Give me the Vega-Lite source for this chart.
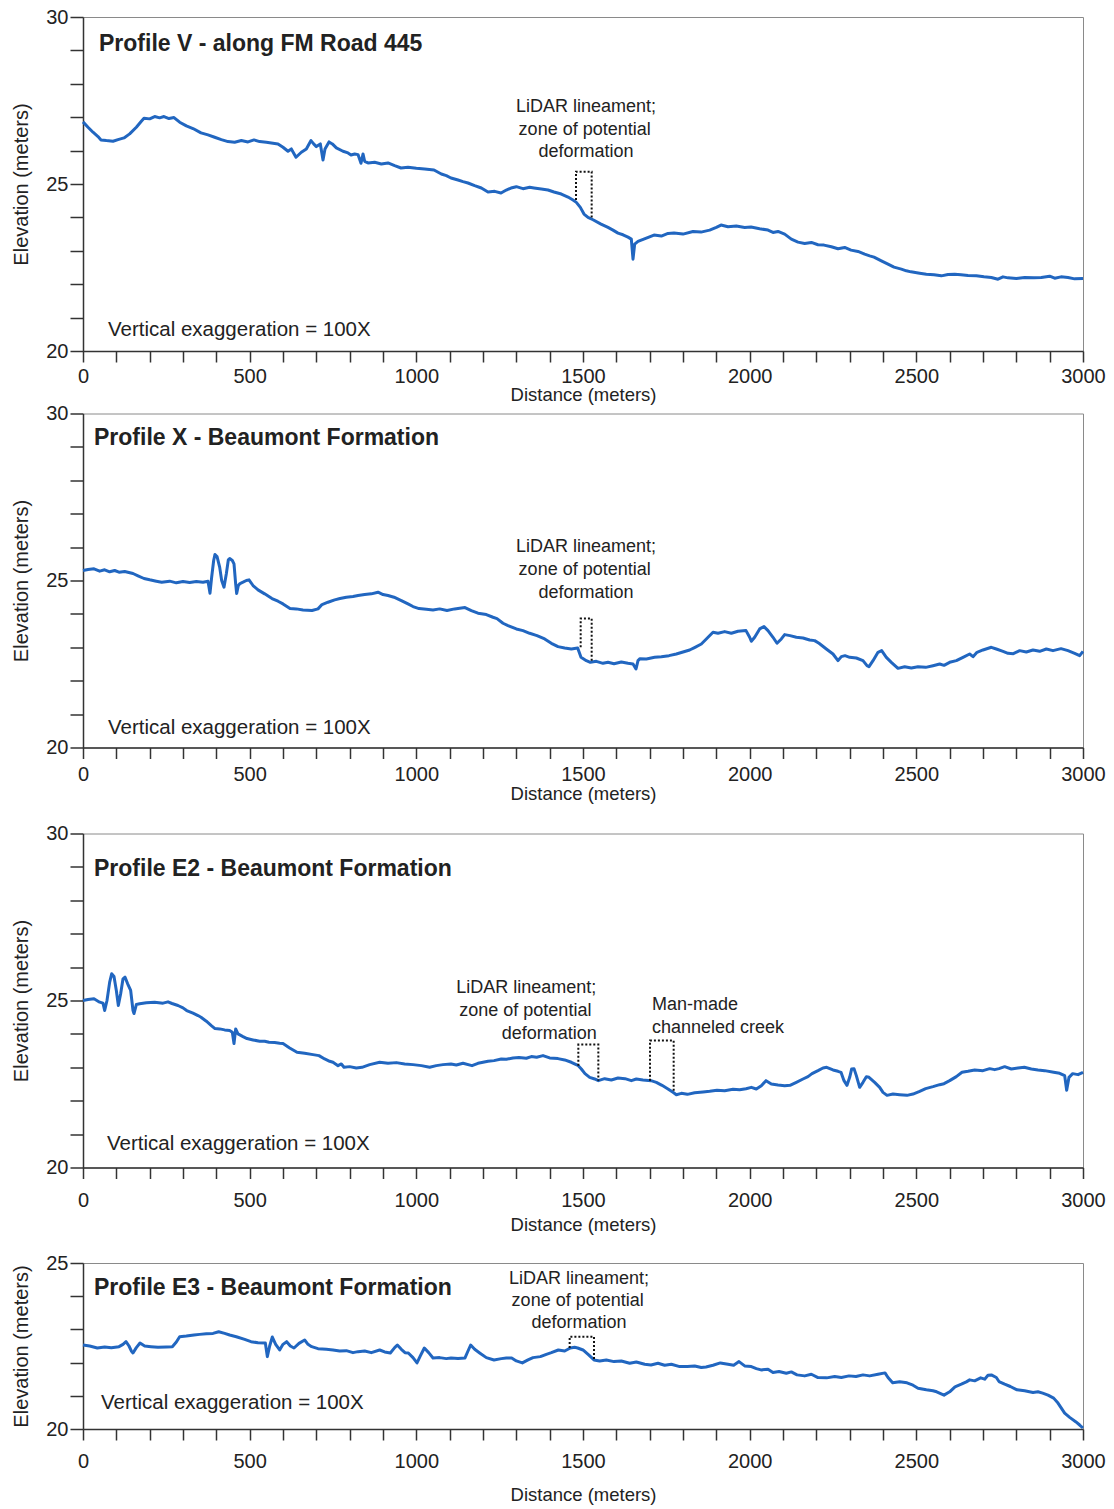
{
  "$schema": "https://vega.github.io/schema/vega-lite/v6.json",
  "background": "white",
  "padding": {"left": 11, "top": 6, "right": 8, "bottom": 2},
  "config": {
    "font": "Liberation Sans",
    "view": {"stroke": "#8a8a8a", "strokeWidth": 1},
    "axis": {
      "grid": false,
      "domainColor": "#333333",
      "domainWidth": 1.5,
      "tickColor": "#333333",
      "tickWidth": 1.5,
      "labelFont": "Liberation Sans",
      "labelFontSize": 20,
      "labelColor": "#222222",
      "titleFont": "Liberation Sans",
      "titleFontWeight": "normal",
      "titleColor": "#222222",
      "labelFlush": false,
      "labelOverlap": false,
      "format": "d"
    },
    "axisX": {"tickSize": 11, "titleFontSize": 18.5},
    "axisY": {"tickSize": 13, "labelPadding": 2, "titleFontSize": 20, "titlePadding": 14},
    "text": {"font": "Liberation Sans", "color": "#222222", "baseline": "middle"}
  },
  "datasets": {
    "profileV": [
      {"d":0,"elev":26.86},{"d":15,"elev":26.7},{"d":30,"elev":26.55},{"d":45,"elev":26.42},{"d":54,"elev":26.32},{"d":70,"elev":26.3},{"d":90,"elev":26.28},{"d":105,"elev":26.33},{"d":123,"elev":26.38},{"d":140,"elev":26.5},{"d":160,"elev":26.7},{"d":175,"elev":26.88},{"d":183,"elev":26.97},{"d":200,"elev":26.95},{"d":215,"elev":27.02},{"d":230,"elev":26.98},{"d":243,"elev":27.02},{"d":258,"elev":26.96},{"d":273,"elev":26.99},{"d":290,"elev":26.85},{"d":310,"elev":26.74},{"d":330,"elev":26.66},{"d":354,"elev":26.53},{"d":375,"elev":26.47},{"d":395,"elev":26.4},{"d":415,"elev":26.33},{"d":435,"elev":26.27},{"d":455,"elev":26.25},{"d":475,"elev":26.3},{"d":495,"elev":26.26},{"d":513,"elev":26.32},{"d":530,"elev":26.27},{"d":550,"elev":26.25},{"d":570,"elev":26.22},{"d":585,"elev":26.2},{"d":600,"elev":26.1},{"d":615,"elev":25.98},{"d":625,"elev":26.05},{"d":639,"elev":25.8},{"d":655,"elev":25.95},{"d":670,"elev":26.05},{"d":684,"elev":26.3},{"d":692,"elev":26.2},{"d":700,"elev":26.12},{"d":712,"elev":26.2},{"d":720,"elev":25.72},{"d":726,"elev":26.05},{"d":738,"elev":26.26},{"d":748,"elev":26.2},{"d":760,"elev":26.08},{"d":780,"elev":25.98},{"d":795,"elev":25.93},{"d":804,"elev":25.87},{"d":815,"elev":25.9},{"d":825,"elev":25.88},{"d":834,"elev":25.62},{"d":840,"elev":25.9},{"d":845,"elev":25.68},{"d":855,"elev":25.63},{"d":875,"elev":25.65},{"d":895,"elev":25.6},{"d":915,"elev":25.63},{"d":935,"elev":25.55},{"d":954,"elev":25.48},{"d":975,"elev":25.5},{"d":1000,"elev":25.47},{"d":1025,"elev":25.45},{"d":1053,"elev":25.42},{"d":1075,"elev":25.3},{"d":1090,"elev":25.25},{"d":1104,"elev":25.18},{"d":1125,"elev":25.12},{"d":1140,"elev":25.07},{"d":1155,"elev":25.03},{"d":1175,"elev":24.95},{"d":1195,"elev":24.88},{"d":1215,"elev":24.76},{"d":1235,"elev":24.78},{"d":1254,"elev":24.73},{"d":1270,"elev":24.82},{"d":1284,"elev":24.88},{"d":1300,"elev":24.92},{"d":1320,"elev":24.86},{"d":1340,"elev":24.9},{"d":1353,"elev":24.88},{"d":1375,"elev":24.85},{"d":1395,"elev":24.82},{"d":1413,"elev":24.76},{"d":1435,"elev":24.7},{"d":1455,"elev":24.61},{"d":1470,"elev":24.52},{"d":1480,"elev":24.45},{"d":1492,"elev":24.3},{"d":1503,"elev":24.1},{"d":1515,"elev":24.0},{"d":1530,"elev":23.93},{"d":1554,"elev":23.8},{"d":1575,"elev":23.7},{"d":1590,"elev":23.62},{"d":1605,"elev":23.53},{"d":1620,"elev":23.48},{"d":1635,"elev":23.41},{"d":1645,"elev":23.35},{"d":1650,"elev":22.75},{"d":1655,"elev":23.2},{"d":1665,"elev":23.28},{"d":1690,"elev":23.38},{"d":1713,"elev":23.47},{"d":1735,"elev":23.44},{"d":1755,"elev":23.52},{"d":1773,"elev":23.53},{"d":1800,"elev":23.5},{"d":1830,"elev":23.58},{"d":1854,"elev":23.56},{"d":1880,"elev":23.62},{"d":1900,"elev":23.7},{"d":1914,"elev":23.77},{"d":1935,"elev":23.72},{"d":1960,"elev":23.74},{"d":1985,"elev":23.7},{"d":2004,"elev":23.71},{"d":2030,"elev":23.66},{"d":2055,"elev":23.62},{"d":2070,"elev":23.55},{"d":2085,"elev":23.58},{"d":2105,"elev":23.5},{"d":2125,"elev":23.35},{"d":2145,"elev":23.26},{"d":2165,"elev":23.22},{"d":2185,"elev":23.25},{"d":2205,"elev":23.18},{"d":2223,"elev":23.17},{"d":2245,"elev":23.12},{"d":2265,"elev":23.06},{"d":2285,"elev":23.1},{"d":2304,"elev":23.02},{"d":2325,"elev":22.98},{"d":2345,"elev":22.9},{"d":2360,"elev":22.85},{"d":2373,"elev":22.81},{"d":2395,"elev":22.7},{"d":2415,"elev":22.6},{"d":2433,"elev":22.51},{"d":2455,"elev":22.45},{"d":2470,"elev":22.4},{"d":2484,"elev":22.37},{"d":2510,"elev":22.33},{"d":2530,"elev":22.3},{"d":2553,"elev":22.28},{"d":2575,"elev":22.25},{"d":2595,"elev":22.29},{"d":2615,"elev":22.3},{"d":2634,"elev":22.28},{"d":2655,"elev":22.26},{"d":2680,"elev":22.25},{"d":2703,"elev":22.22},{"d":2725,"elev":22.2},{"d":2745,"elev":22.15},{"d":2760,"elev":22.22},{"d":2775,"elev":22.19},{"d":2800,"elev":22.17},{"d":2825,"elev":22.2},{"d":2853,"elev":22.19},{"d":2875,"elev":22.2},{"d":2900,"elev":22.24},{"d":2915,"elev":22.18},{"d":2934,"elev":22.22},{"d":2955,"elev":22.2},{"d":2975,"elev":22.16},{"d":3000,"elev":22.17}
    ],
    "profileX": [
      {"d":0,"elev":25.3},{"d":15,"elev":25.33},{"d":33,"elev":25.35},{"d":50,"elev":25.28},{"d":65,"elev":25.32},{"d":80,"elev":25.26},{"d":95,"elev":25.3},{"d":108,"elev":25.25},{"d":125,"elev":25.27},{"d":150,"elev":25.21},{"d":165,"elev":25.14},{"d":183,"elev":25.06},{"d":200,"elev":25.02},{"d":220,"elev":24.98},{"d":236,"elev":24.95},{"d":260,"elev":24.98},{"d":280,"elev":24.93},{"d":300,"elev":24.97},{"d":320,"elev":24.94},{"d":340,"elev":24.97},{"d":360,"elev":24.95},{"d":375,"elev":24.98},{"d":381,"elev":24.62},{"d":386,"elev":25.1},{"d":392,"elev":25.6},{"d":396,"elev":25.78},{"d":402,"elev":25.72},{"d":410,"elev":25.4},{"d":416,"elev":25.0},{"d":423,"elev":24.8},{"d":430,"elev":25.2},{"d":436,"elev":25.62},{"d":440,"elev":25.66},{"d":448,"elev":25.6},{"d":453,"elev":25.5},{"d":458,"elev":24.9},{"d":461,"elev":24.61},{"d":466,"elev":24.85},{"d":471,"elev":24.91},{"d":480,"elev":24.95},{"d":490,"elev":25.0},{"d":498,"elev":25.02},{"d":510,"elev":24.85},{"d":525,"elev":24.72},{"d":545,"elev":24.6},{"d":567,"elev":24.46},{"d":585,"elev":24.38},{"d":600,"elev":24.3},{"d":621,"elev":24.16},{"d":640,"elev":24.15},{"d":660,"elev":24.12},{"d":687,"elev":24.1},{"d":705,"elev":24.15},{"d":717,"elev":24.28},{"d":735,"elev":24.35},{"d":755,"elev":24.42},{"d":771,"elev":24.46},{"d":790,"elev":24.5},{"d":810,"elev":24.52},{"d":825,"elev":24.55},{"d":845,"elev":24.58},{"d":865,"elev":24.6},{"d":885,"elev":24.65},{"d":900,"elev":24.58},{"d":915,"elev":24.55},{"d":933,"elev":24.5},{"d":955,"elev":24.4},{"d":975,"elev":24.3},{"d":990,"elev":24.22},{"d":1008,"elev":24.16},{"d":1030,"elev":24.14},{"d":1050,"elev":24.12},{"d":1070,"elev":24.15},{"d":1092,"elev":24.1},{"d":1115,"elev":24.15},{"d":1130,"elev":24.17},{"d":1146,"elev":24.19},{"d":1165,"elev":24.1},{"d":1185,"elev":24.02},{"d":1210,"elev":23.98},{"d":1230,"elev":23.9},{"d":1242,"elev":23.86},{"d":1260,"elev":23.72},{"d":1275,"elev":23.65},{"d":1300,"elev":23.55},{"d":1320,"elev":23.5},{"d":1340,"elev":23.42},{"d":1362,"elev":23.35},{"d":1385,"elev":23.25},{"d":1405,"elev":23.12},{"d":1425,"elev":23.02},{"d":1445,"elev":22.98},{"d":1465,"elev":22.95},{"d":1484,"elev":22.98},{"d":1494,"elev":22.7},{"d":1510,"elev":22.6},{"d":1522,"elev":22.55},{"d":1540,"elev":22.58},{"d":1560,"elev":22.52},{"d":1575,"elev":22.55},{"d":1593,"elev":22.51},{"d":1615,"elev":22.56},{"d":1635,"elev":22.52},{"d":1650,"elev":22.5},{"d":1659,"elev":22.35},{"d":1665,"elev":22.6},{"d":1671,"elev":22.66},{"d":1690,"elev":22.65},{"d":1715,"elev":22.7},{"d":1735,"elev":22.72},{"d":1758,"elev":22.75},{"d":1780,"elev":22.8},{"d":1800,"elev":22.86},{"d":1820,"elev":22.92},{"d":1836,"elev":23.0},{"d":1855,"elev":23.1},{"d":1870,"elev":23.25},{"d":1890,"elev":23.45},{"d":1905,"elev":23.42},{"d":1925,"elev":23.47},{"d":1945,"elev":23.42},{"d":1965,"elev":23.48},{"d":1989,"elev":23.5},{"d":2000,"elev":23.3},{"d":2005,"elev":23.18},{"d":2015,"elev":23.3},{"d":2030,"elev":23.55},{"d":2043,"elev":23.62},{"d":2055,"elev":23.5},{"d":2070,"elev":23.3},{"d":2082,"elev":23.12},{"d":2095,"elev":23.25},{"d":2105,"elev":23.38},{"d":2121,"elev":23.35},{"d":2140,"elev":23.3},{"d":2160,"elev":23.28},{"d":2180,"elev":23.22},{"d":2195,"elev":23.2},{"d":2208,"elev":23.12},{"d":2230,"elev":22.95},{"d":2250,"elev":22.8},{"d":2265,"elev":22.6},{"d":2275,"elev":22.72},{"d":2286,"elev":22.75},{"d":2300,"elev":22.7},{"d":2320,"elev":22.68},{"d":2340,"elev":22.6},{"d":2352,"elev":22.45},{"d":2358,"elev":22.42},{"d":2370,"elev":22.6},{"d":2385,"elev":22.85},{"d":2396,"elev":22.9},{"d":2410,"elev":22.7},{"d":2425,"elev":22.55},{"d":2445,"elev":22.37},{"d":2465,"elev":22.42},{"d":2485,"elev":22.38},{"d":2505,"elev":22.42},{"d":2528,"elev":22.4},{"d":2550,"elev":22.45},{"d":2570,"elev":22.5},{"d":2583,"elev":22.46},{"d":2600,"elev":22.55},{"d":2620,"elev":22.6},{"d":2640,"elev":22.7},{"d":2660,"elev":22.8},{"d":2670,"elev":22.72},{"d":2682,"elev":22.85},{"d":2700,"elev":22.92},{"d":2725,"elev":23.0},{"d":2740,"elev":22.95},{"d":2760,"elev":22.88},{"d":2775,"elev":22.82},{"d":2791,"elev":22.81},{"d":2810,"elev":22.9},{"d":2830,"elev":22.86},{"d":2850,"elev":22.92},{"d":2870,"elev":22.88},{"d":2890,"elev":22.95},{"d":2910,"elev":22.9},{"d":2934,"elev":22.96},{"d":2955,"elev":22.9},{"d":2975,"elev":22.82},{"d":2990,"elev":22.75},{"d":3000,"elev":22.88}
    ],
    "profileE2": [
      {"d":0,"elev":25.0},{"d":15,"elev":25.03},{"d":33,"elev":25.05},{"d":50,"elev":24.95},{"d":60,"elev":24.92},{"d":65,"elev":24.7},{"d":72,"elev":25.0},{"d":80,"elev":25.55},{"d":86,"elev":25.8},{"d":93,"elev":25.72},{"d":100,"elev":25.3},{"d":106,"elev":24.85},{"d":113,"elev":25.2},{"d":120,"elev":25.65},{"d":126,"elev":25.7},{"d":134,"elev":25.5},{"d":143,"elev":25.3},{"d":150,"elev":24.7},{"d":153,"elev":24.61},{"d":160,"elev":24.88},{"d":170,"elev":24.9},{"d":190,"elev":24.93},{"d":215,"elev":24.95},{"d":240,"elev":24.92},{"d":255,"elev":24.96},{"d":267,"elev":24.91},{"d":285,"elev":24.85},{"d":300,"elev":24.78},{"d":311,"elev":24.7},{"d":330,"elev":24.62},{"d":345,"elev":24.55},{"d":354,"elev":24.5},{"d":370,"elev":24.38},{"d":385,"elev":24.25},{"d":396,"elev":24.16},{"d":410,"elev":24.15},{"d":425,"elev":24.12},{"d":440,"elev":24.1},{"d":448,"elev":24.05},{"d":453,"elev":23.71},{"d":458,"elev":24.15},{"d":465,"elev":24.0},{"d":480,"elev":23.92},{"d":492,"elev":23.86},{"d":510,"elev":23.82},{"d":530,"elev":23.78},{"d":545,"elev":23.78},{"d":558,"elev":23.75},{"d":575,"elev":23.74},{"d":590,"elev":23.72},{"d":600,"elev":23.71},{"d":620,"elev":23.58},{"d":642,"elev":23.45},{"d":665,"elev":23.42},{"d":690,"elev":23.38},{"d":708,"elev":23.35},{"d":725,"elev":23.25},{"d":740,"elev":23.18},{"d":750,"elev":23.15},{"d":765,"elev":23.05},{"d":775,"elev":23.1},{"d":783,"elev":23.0},{"d":800,"elev":23.02},{"d":820,"elev":22.98},{"d":837,"elev":23.0},{"d":860,"elev":23.08},{"d":890,"elev":23.15},{"d":915,"elev":23.12},{"d":940,"elev":23.14},{"d":965,"elev":23.1},{"d":990,"elev":23.08},{"d":1015,"elev":23.05},{"d":1040,"elev":23.0},{"d":1060,"elev":23.05},{"d":1080,"elev":23.08},{"d":1104,"elev":23.1},{"d":1120,"elev":23.07},{"d":1140,"elev":23.12},{"d":1167,"elev":23.05},{"d":1185,"elev":23.12},{"d":1200,"elev":23.15},{"d":1215,"elev":23.18},{"d":1233,"elev":23.2},{"d":1255,"elev":23.25},{"d":1270,"elev":23.24},{"d":1290,"elev":23.28},{"d":1308,"elev":23.29},{"d":1330,"elev":23.27},{"d":1345,"elev":23.32},{"d":1361,"elev":23.3},{"d":1380,"elev":23.35},{"d":1400,"elev":23.28},{"d":1425,"elev":23.26},{"d":1445,"elev":23.22},{"d":1465,"elev":23.15},{"d":1486,"elev":23.05},{"d":1495,"elev":22.95},{"d":1506,"elev":22.81},{"d":1520,"elev":22.7},{"d":1535,"elev":22.65},{"d":1546,"elev":22.6},{"d":1565,"elev":22.66},{"d":1585,"elev":22.62},{"d":1605,"elev":22.68},{"d":1626,"elev":22.66},{"d":1645,"elev":22.6},{"d":1660,"elev":22.65},{"d":1680,"elev":22.62},{"d":1704,"elev":22.6},{"d":1720,"elev":22.55},{"d":1737,"elev":22.46},{"d":1755,"elev":22.35},{"d":1770,"elev":22.25},{"d":1780,"elev":22.18},{"d":1795,"elev":22.22},{"d":1813,"elev":22.19},{"d":1835,"elev":22.24},{"d":1860,"elev":22.26},{"d":1880,"elev":22.28},{"d":1902,"elev":22.31},{"d":1925,"elev":22.3},{"d":1950,"elev":22.34},{"d":1970,"elev":22.33},{"d":1989,"elev":22.36},{"d":2005,"elev":22.4},{"d":2020,"elev":22.35},{"d":2035,"elev":22.45},{"d":2049,"elev":22.6},{"d":2065,"elev":22.5},{"d":2085,"elev":22.47},{"d":2105,"elev":22.45},{"d":2121,"elev":22.46},{"d":2140,"elev":22.55},{"d":2160,"elev":22.65},{"d":2175,"elev":22.72},{"d":2187,"elev":22.81},{"d":2205,"elev":22.9},{"d":2220,"elev":22.98},{"d":2231,"elev":23.0},{"d":2250,"elev":22.92},{"d":2265,"elev":22.88},{"d":2274,"elev":22.85},{"d":2283,"elev":22.6},{"d":2292,"elev":22.46},{"d":2300,"elev":22.7},{"d":2306,"elev":22.95},{"d":2313,"elev":22.96},{"d":2320,"elev":22.75},{"d":2330,"elev":22.4},{"d":2340,"elev":22.55},{"d":2350,"elev":22.72},{"d":2358,"elev":22.7},{"d":2375,"elev":22.55},{"d":2390,"elev":22.4},{"d":2400,"elev":22.25},{"d":2412,"elev":22.16},{"d":2430,"elev":22.2},{"d":2450,"elev":22.18},{"d":2472,"elev":22.16},{"d":2490,"elev":22.2},{"d":2510,"elev":22.28},{"d":2528,"elev":22.36},{"d":2550,"elev":22.42},{"d":2570,"elev":22.48},{"d":2583,"elev":22.51},{"d":2600,"elev":22.6},{"d":2620,"elev":22.72},{"d":2637,"elev":22.85},{"d":2655,"elev":22.88},{"d":2675,"elev":22.92},{"d":2700,"elev":22.9},{"d":2720,"elev":22.96},{"d":2735,"elev":22.93},{"d":2748,"elev":22.96},{"d":2765,"elev":23.02},{"d":2785,"elev":22.95},{"d":2805,"elev":22.98},{"d":2824,"elev":23.0},{"d":2845,"elev":22.95},{"d":2865,"elev":22.92},{"d":2885,"elev":22.9},{"d":2912,"elev":22.85},{"d":2930,"elev":22.82},{"d":2945,"elev":22.75},{"d":2951,"elev":22.31},{"d":2958,"elev":22.7},{"d":2969,"elev":22.81},{"d":2985,"elev":22.78},{"d":3000,"elev":22.85}
    ],
    "profileE3": [
      {"d":0,"elev":22.53},{"d":20,"elev":22.5},{"d":43,"elev":22.44},{"d":65,"elev":22.47},{"d":85,"elev":22.45},{"d":108,"elev":22.48},{"d":120,"elev":22.55},{"d":129,"elev":22.63},{"d":138,"elev":22.5},{"d":145,"elev":22.35},{"d":150,"elev":22.29},{"d":160,"elev":22.45},{"d":171,"elev":22.59},{"d":185,"elev":22.5},{"d":204,"elev":22.48},{"d":225,"elev":22.46},{"d":250,"elev":22.47},{"d":268,"elev":22.48},{"d":280,"elev":22.62},{"d":290,"elev":22.78},{"d":310,"elev":22.8},{"d":333,"elev":22.83},{"d":350,"elev":22.85},{"d":370,"elev":22.87},{"d":390,"elev":22.88},{"d":407,"elev":22.93},{"d":425,"elev":22.88},{"d":440,"elev":22.83},{"d":460,"elev":22.78},{"d":485,"elev":22.7},{"d":504,"elev":22.63},{"d":525,"elev":22.6},{"d":547,"elev":22.59},{"d":553,"elev":22.18},{"d":560,"elev":22.5},{"d":568,"elev":22.77},{"d":578,"elev":22.55},{"d":590,"elev":22.38},{"d":600,"elev":22.55},{"d":611,"elev":22.63},{"d":622,"elev":22.5},{"d":633,"elev":22.44},{"d":648,"elev":22.58},{"d":665,"elev":22.68},{"d":675,"elev":22.55},{"d":686,"elev":22.48},{"d":705,"elev":22.42},{"d":730,"elev":22.4},{"d":750,"elev":22.38},{"d":770,"elev":22.35},{"d":790,"elev":22.36},{"d":810,"elev":22.3},{"d":825,"elev":22.33},{"d":845,"elev":22.35},{"d":865,"elev":22.3},{"d":890,"elev":22.38},{"d":905,"elev":22.32},{"d":922,"elev":22.29},{"d":935,"elev":22.45},{"d":943,"elev":22.53},{"d":955,"elev":22.4},{"d":966,"elev":22.3},{"d":976,"elev":22.29},{"d":990,"elev":22.15},{"d":1002,"elev":21.99},{"d":1012,"elev":22.2},{"d":1024,"elev":22.44},{"d":1037,"elev":22.3},{"d":1050,"elev":22.14},{"d":1070,"elev":22.15},{"d":1090,"elev":22.12},{"d":1104,"elev":22.14},{"d":1125,"elev":22.12},{"d":1146,"elev":22.14},{"d":1155,"elev":22.35},{"d":1163,"elev":22.53},{"d":1175,"elev":22.4},{"d":1190,"elev":22.29},{"d":1210,"elev":22.15},{"d":1233,"elev":22.08},{"d":1255,"elev":22.12},{"d":1270,"elev":22.14},{"d":1286,"elev":22.14},{"d":1300,"elev":22.05},{"d":1318,"elev":21.99},{"d":1335,"elev":22.08},{"d":1350,"elev":22.15},{"d":1372,"elev":22.18},{"d":1390,"elev":22.25},{"d":1405,"elev":22.3},{"d":1426,"elev":22.38},{"d":1445,"elev":22.35},{"d":1462,"elev":22.44},{"d":1475,"elev":22.46},{"d":1484,"elev":22.44},{"d":1500,"elev":22.38},{"d":1517,"elev":22.23},{"d":1533,"elev":22.08},{"d":1550,"elev":22.05},{"d":1570,"elev":22.08},{"d":1593,"elev":22.03},{"d":1615,"elev":22.05},{"d":1640,"elev":21.98},{"d":1660,"elev":22.02},{"d":1685,"elev":21.95},{"d":1704,"elev":21.93},{"d":1725,"elev":21.98},{"d":1745,"elev":21.92},{"d":1765,"elev":21.95},{"d":1790,"elev":21.88},{"d":1813,"elev":21.88},{"d":1835,"elev":21.9},{"d":1855,"elev":21.85},{"d":1869,"elev":21.87},{"d":1890,"elev":21.92},{"d":1912,"elev":21.99},{"d":1935,"elev":21.95},{"d":1952,"elev":21.92},{"d":1968,"elev":22.03},{"d":1985,"elev":21.9},{"d":2005,"elev":21.88},{"d":2020,"elev":21.82},{"d":2034,"elev":21.78},{"d":2055,"elev":21.8},{"d":2070,"elev":21.7},{"d":2088,"elev":21.73},{"d":2110,"elev":21.68},{"d":2125,"elev":21.72},{"d":2142,"elev":21.63},{"d":2165,"elev":21.6},{"d":2185,"elev":21.65},{"d":2205,"elev":21.55},{"d":2231,"elev":21.54},{"d":2255,"elev":21.58},{"d":2275,"elev":21.55},{"d":2298,"elev":21.6},{"d":2319,"elev":21.58},{"d":2340,"elev":21.63},{"d":2360,"elev":21.6},{"d":2385,"elev":21.65},{"d":2406,"elev":21.69},{"d":2415,"elev":21.55},{"d":2429,"elev":21.39},{"d":2450,"elev":21.42},{"d":2472,"elev":21.39},{"d":2490,"elev":21.32},{"d":2505,"elev":21.23},{"d":2530,"elev":21.18},{"d":2550,"elev":21.15},{"d":2561,"elev":21.12},{"d":2583,"elev":21.02},{"d":2600,"elev":21.12},{"d":2616,"elev":21.27},{"d":2635,"elev":21.35},{"d":2650,"elev":21.42},{"d":2660,"elev":21.48},{"d":2675,"elev":21.45},{"d":2693,"elev":21.54},{"d":2705,"elev":21.5},{"d":2715,"elev":21.62},{"d":2725,"elev":21.63},{"d":2740,"elev":21.55},{"d":2748,"elev":21.43},{"d":2765,"elev":21.35},{"d":2782,"elev":21.28},{"d":2802,"elev":21.18},{"d":2825,"elev":21.15},{"d":2850,"elev":21.1},{"d":2865,"elev":21.12},{"d":2879,"elev":21.08},{"d":2895,"elev":21.02},{"d":2912,"elev":20.93},{"d":2925,"elev":20.78},{"d":2945,"elev":20.48},{"d":2960,"elev":20.35},{"d":2978,"elev":20.22},{"d":2990,"elev":20.12},{"d":3000,"elev":20.03}
    ],
    "zones": [
      {"panel":"V","zone":"a","step":1,"d":1479,"elev":24.52},{"panel":"V","zone":"a","step":2,"d":1479,"elev":25.37},{"panel":"V","zone":"a","step":3,"d":1526,"elev":25.37},{"panel":"V","zone":"a","step":4,"d":1526,"elev":23.98},
      {"panel":"X","zone":"a","step":1,"d":1493,"elev":23.0},{"panel":"X","zone":"a","step":2,"d":1493,"elev":23.86},{"panel":"X","zone":"a","step":3,"d":1526,"elev":23.86},{"panel":"X","zone":"a","step":4,"d":1526,"elev":22.55},
      {"panel":"E2","zone":"a","step":1,"d":1486,"elev":23.05},{"panel":"E2","zone":"a","step":2,"d":1486,"elev":23.68},{"panel":"E2","zone":"a","step":3,"d":1546,"elev":23.68},{"panel":"E2","zone":"a","step":4,"d":1546,"elev":22.6},
      {"panel":"E2","zone":"b","step":1,"d":1701,"elev":22.6},{"panel":"E2","zone":"b","step":2,"d":1701,"elev":23.8},{"panel":"E2","zone":"b","step":3,"d":1772,"elev":23.8},{"panel":"E2","zone":"b","step":4,"d":1772,"elev":22.25},
      {"panel":"E3","zone":"a","step":1,"d":1460,"elev":22.44},{"panel":"E3","zone":"a","step":2,"d":1460,"elev":22.78},{"panel":"E3","zone":"a","step":3,"d":1533,"elev":22.78},{"panel":"E3","zone":"a","step":4,"d":1533,"elev":22.08}
    ],
    "notes": [
      {"panel":"V","kind":"title","d":48,"elev":29.19,"text":"Profile V - along FM Road 445"},
      {"panel":"V","kind":"left","d":75,"elev":20.63,"text":"Vertical exaggeration = 100X"},
      {"panel":"V","kind":"mid","d":1509,"elev":27.31,"text":"LiDAR lineament;"},
      {"panel":"V","kind":"mid","d":1505,"elev":26.62,"text":"zone of potential"},
      {"panel":"V","kind":"mid","d":1509,"elev":25.96,"text":"deformation"},
      {"panel":"X","kind":"title","d":33,"elev":29.28,"text":"Profile X - Beaumont Formation"},
      {"panel":"X","kind":"left","d":75,"elev":20.57,"text":"Vertical exaggeration = 100X"},
      {"panel":"X","kind":"mid","d":1509,"elev":25.99,"text":"LiDAR lineament;"},
      {"panel":"X","kind":"mid","d":1505,"elev":25.3,"text":"zone of potential"},
      {"panel":"X","kind":"mid","d":1509,"elev":24.64,"text":"deformation"},
      {"panel":"E2","kind":"title","d":33,"elev":28.95,"text":"Profile E2 - Beaumont Formation"},
      {"panel":"E2","kind":"left","d":72,"elev":20.69,"text":"Vertical exaggeration = 100X"},
      {"panel":"E2","kind":"mid","d":1330,"elev":25.36,"text":"LiDAR lineament;"},
      {"panel":"E2","kind":"mid","d":1327,"elev":24.7,"text":"zone of potential"},
      {"panel":"E2","kind":"mid","d":1399,"elev":24.01,"text":"deformation"},
      {"panel":"E2","kind":"left","d":1707,"elev":24.88,"text":"Man-made"},
      {"panel":"E2","kind":"left","d":1707,"elev":24.19,"text":"channeled creek"},
      {"panel":"E3","kind":"title","d":33,"elev":24.25,"text":"Profile E3 - Beaumont Formation"},
      {"panel":"E3","kind":"left","d":54,"elev":20.78,"text":"Vertical exaggeration = 100X"},
      {"panel":"E3","kind":"mid","d":1488,"elev":24.52,"text":"LiDAR lineament;"},
      {"panel":"E3","kind":"mid","d":1484,"elev":23.86,"text":"zone of potential"},
      {"panel":"E3","kind":"mid","d":1488,"elev":23.19,"text":"deformation"}
    ]
  },
  "spacing": 18.5,
  "vconcat": [
    {
      "spacing": -1.5,
      "vconcat": [
        {
          "width": 1000,
          "height": 334,
          "encoding": {
            "x": {"field": "d", "type": "quantitative", "scale": {"domain": [0, 3000], "nice": false},
              "axis": {"values": [0,100,200,300,400,500,600,700,800,900,1000,1100,1200,1300,1400,1500,1600,1700,1800,1900,2000,2100,2200,2300,2400,2500,2600,2700,2800,2900,3000], "labelExpr": "datum.value % 500 === 0 ? datum.label : ''", "title": "Distance (meters)", "labelPadding": 4, "titlePadding": -1}},
            "y": {"field": "elev", "type": "quantitative", "scale": {"domain": [20, 30], "nice": false, "zero": false},
              "axis": {"values": [20,21,22,23,24,25,26,27,28,29,30], "labelExpr": "datum.value % 5 === 0 ? datum.label : ''", "title": "Elevation (meters)"}}
          },
          "layer": [
            {"data": {"name": "profileV"}, "mark": {"type": "line", "color": "#2166c0", "strokeWidth": 3, "strokeJoin": "round"}},
            {"data": {"name": "zones"}, "transform": [{"filter": "datum.panel === 'V'"}], "mark": {"type": "line", "color": "#111111", "strokeWidth": 2, "strokeDash": [2, 2]}, "encoding": {"detail": {"field": "zone"}, "order": {"field": "step"}}},
            {"data": {"name": "notes"}, "transform": [{"filter": "datum.panel === 'V' && datum.kind === 'title'"}], "mark": {"type": "text", "align": "left", "fontSize": 23, "fontWeight": "bold"}, "encoding": {"text": {"field": "text"}}},
            {"data": {"name": "notes"}, "transform": [{"filter": "datum.panel === 'V' && datum.kind === 'left'"}], "mark": {"type": "text", "align": "left", "fontSize": 20.5}, "encoding": {"text": {"field": "text"}}},
            {"data": {"name": "notes"}, "transform": [{"filter": "datum.panel === 'V' && datum.kind === 'mid'"}], "mark": {"type": "text", "align": "center", "fontSize": 18}, "encoding": {"text": {"field": "text"}}}
          ]
        },
        {
          "width": 1000,
          "height": 334,
          "encoding": {
            "x": {"field": "d", "type": "quantitative", "scale": {"domain": [0, 3000], "nice": false},
              "axis": {"values": [0,100,200,300,400,500,600,700,800,900,1000,1100,1200,1300,1400,1500,1600,1700,1800,1900,2000,2100,2200,2300,2400,2500,2600,2700,2800,2900,3000], "labelExpr": "datum.value % 500 === 0 ? datum.label : ''", "title": "Distance (meters)", "labelPadding": 6, "titlePadding": 0}},
            "y": {"field": "elev", "type": "quantitative", "scale": {"domain": [20, 30], "nice": false, "zero": false},
              "axis": {"values": [20,21,22,23,24,25,26,27,28,29,30], "labelExpr": "datum.value % 5 === 0 ? datum.label : ''", "title": "Elevation (meters)"}}
          },
          "layer": [
            {"data": {"name": "profileX"}, "mark": {"type": "line", "color": "#2166c0", "strokeWidth": 3, "strokeJoin": "round"}},
            {"data": {"name": "zones"}, "transform": [{"filter": "datum.panel === 'X'"}], "mark": {"type": "line", "color": "#111111", "strokeWidth": 2, "strokeDash": [2, 2]}, "encoding": {"detail": {"field": "zone"}, "order": {"field": "step"}}},
            {"data": {"name": "notes"}, "transform": [{"filter": "datum.panel === 'X' && datum.kind === 'title'"}], "mark": {"type": "text", "align": "left", "fontSize": 23, "fontWeight": "bold"}, "encoding": {"text": {"field": "text"}}},
            {"data": {"name": "notes"}, "transform": [{"filter": "datum.panel === 'X' && datum.kind === 'left'"}], "mark": {"type": "text", "align": "left", "fontSize": 20.5}, "encoding": {"text": {"field": "text"}}},
            {"data": {"name": "notes"}, "transform": [{"filter": "datum.panel === 'X' && datum.kind === 'mid'"}], "mark": {"type": "text", "align": "center", "fontSize": 18}, "encoding": {"text": {"field": "text"}}}
          ]
        }
      ]
    },
    {
      "spacing": 17.5,
      "vconcat": [
        {
          "width": 1000,
          "height": 334,
          "encoding": {
            "x": {"field": "d", "type": "quantitative", "scale": {"domain": [0, 3000], "nice": false},
              "axis": {"values": [0,100,200,300,400,500,600,700,800,900,1000,1100,1200,1300,1400,1500,1600,1700,1800,1900,2000,2100,2200,2300,2400,2500,2600,2700,2800,2900,3000], "labelExpr": "datum.value % 500 === 0 ? datum.label : ''", "title": "Distance (meters)", "labelPadding": 12, "titlePadding": 5}},
            "y": {"field": "elev", "type": "quantitative", "scale": {"domain": [20, 30], "nice": false, "zero": false},
              "axis": {"values": [20,21,22,23,24,25,26,27,28,29,30], "labelExpr": "datum.value % 5 === 0 ? datum.label : ''", "title": "Elevation (meters)"}}
          },
          "layer": [
            {"data": {"name": "profileE2"}, "mark": {"type": "line", "color": "#2166c0", "strokeWidth": 3, "strokeJoin": "round"}},
            {"data": {"name": "zones"}, "transform": [{"filter": "datum.panel === 'E2'"}], "mark": {"type": "line", "color": "#111111", "strokeWidth": 2, "strokeDash": [2, 2]}, "encoding": {"detail": {"field": "zone"}, "order": {"field": "step"}}},
            {"data": {"name": "notes"}, "transform": [{"filter": "datum.panel === 'E2' && datum.kind === 'title'"}], "mark": {"type": "text", "align": "left", "fontSize": 23, "fontWeight": "bold"}, "encoding": {"text": {"field": "text"}}},
            {"data": {"name": "notes"}, "transform": [{"filter": "datum.panel === 'E2' && datum.kind === 'left' && datum.d < 1000"}], "mark": {"type": "text", "align": "left", "fontSize": 20.5}, "encoding": {"text": {"field": "text"}}},
            {"data": {"name": "notes"}, "transform": [{"filter": "datum.panel === 'E2' && datum.kind === 'left' && datum.d >= 1000"}], "mark": {"type": "text", "align": "left", "fontSize": 18}, "encoding": {"text": {"field": "text"}}},
            {"data": {"name": "notes"}, "transform": [{"filter": "datum.panel === 'E2' && datum.kind === 'mid'"}], "mark": {"type": "text", "align": "center", "fontSize": 18}, "encoding": {"text": {"field": "text"}}}
          ]
        },
        {
          "width": 1000,
          "height": 166,
          "encoding": {
            "x": {"field": "d", "type": "quantitative", "scale": {"domain": [0, 3000], "nice": false},
              "axis": {"values": [0,100,200,300,400,500,600,700,800,900,1000,1100,1200,1300,1400,1500,1600,1700,1800,1900,2000,2100,2200,2300,2400,2500,2600,2700,2800,2900,3000], "labelExpr": "datum.value % 500 === 0 ? datum.label : ''", "title": "Distance (meters)", "labelPadding": 11, "titlePadding": 14}},
            "y": {"field": "elev", "type": "quantitative", "scale": {"domain": [20, 25], "nice": false, "zero": false},
              "axis": {"values": [20,21,22,23,24,25], "labelExpr": "datum.value % 5 === 0 ? datum.label : ''", "title": "Elevation (meters)"}}
          },
          "layer": [
            {"data": {"name": "profileE3"}, "mark": {"type": "line", "color": "#2166c0", "strokeWidth": 3, "strokeJoin": "round"}},
            {"data": {"name": "zones"}, "transform": [{"filter": "datum.panel === 'E3'"}], "mark": {"type": "line", "color": "#111111", "strokeWidth": 2, "strokeDash": [2, 2]}, "encoding": {"detail": {"field": "zone"}, "order": {"field": "step"}}},
            {"data": {"name": "notes"}, "transform": [{"filter": "datum.panel === 'E3' && datum.kind === 'title'"}], "mark": {"type": "text", "align": "left", "fontSize": 23, "fontWeight": "bold"}, "encoding": {"text": {"field": "text"}}},
            {"data": {"name": "notes"}, "transform": [{"filter": "datum.panel === 'E3' && datum.kind === 'left'"}], "mark": {"type": "text", "align": "left", "fontSize": 20.5}, "encoding": {"text": {"field": "text"}}},
            {"data": {"name": "notes"}, "transform": [{"filter": "datum.panel === 'E3' && datum.kind === 'mid'"}], "mark": {"type": "text", "align": "center", "fontSize": 18}, "encoding": {"text": {"field": "text"}}}
          ]
        }
      ]
    }
  ]
}
